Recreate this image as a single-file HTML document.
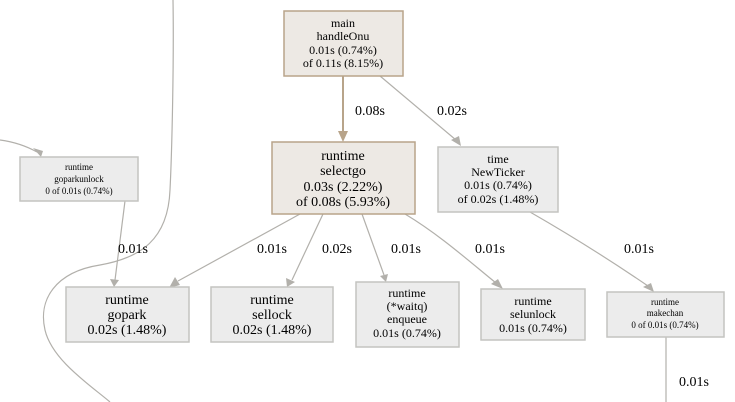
<!DOCTYPE html>
<html><head><meta charset="utf-8"><style>
html,body{margin:0;padding:0;background:#fff;width:735px;height:402px;overflow:hidden}
</style></head><body>
<svg width="735" height="402" viewBox="0 0 735 402" xmlns="http://www.w3.org/2000/svg" font-family="'Liberation Serif', 'DejaVu Serif', 'Times New Roman', serif" text-anchor="middle">
<g fill="none" stroke="#b2b0ab" stroke-width="1.2">
<path d="M173,0 C174,60 172,150 170,190 C168,240 140,258 100,265 C55,272 38,300 45,330 C52,360 90,385 110,402"/>
<path d="M0,140 C15,142 28,147 37,152"/>
<path d="M125,201 L115,280"/>
<path d="M300,214 L178,281"/>
<path d="M323,214 L292,280"/>
<path d="M362,214 L384,275"/>
<path d="M405,214 C440,235 470,262 496,283"/>
<path d="M380,76 L456,140"/>
<path d="M530,212 C570,235 610,260 648,286"/>
<path d="M666,337 L666,402"/>
</g>
<path d="M343,76 L343,132" stroke="#b8a48a" stroke-width="2" fill="none"/>
<polygon points="338,131 348,131 343,142" fill="#b8a48a"/>
<g fill="#b2b0ab">
<polygon points="33,148 43,151 41,157"/>
<polygon points="110,279 119,280 114,287"/>
<polygon points="175,277 180,285 169,288"/>
<polygon points="286,278 295,282 287,287"/>
<polygon points="380,276 388,274 386,282"/>
<polygon points="491,284 498,279 503,289"/>
<polygon points="451,140 459,136 461,146"/>
<polygon points="643,287 651,283 654,292"/>
</g>
<g stroke-width="1.5">
<rect x="284" y="11" width="119" height="65" fill="#ede9e4" stroke="#b8a48a"/>
<rect x="272" y="142" width="143" height="72" fill="#ede9e4" stroke="#b8a48a"/>
<rect x="20" y="157" width="118" height="44" fill="#ececec" stroke="#c4c4c0"/>
<rect x="438" y="147" width="120" height="65" fill="#ececec" stroke="#c4c4c0"/>
<rect x="66" y="287" width="123" height="55" fill="#ececec" stroke="#c4c4c0"/>
<rect x="211" y="287" width="122" height="55" fill="#ececec" stroke="#c4c4c0"/>
<rect x="356" y="282" width="103" height="65" fill="#ececec" stroke="#c4c4c0"/>
<rect x="481" y="289" width="104" height="51" fill="#ececec" stroke="#c4c4c0"/>
<rect x="607" y="292" width="117" height="45" fill="#ececec" stroke="#c4c4c0"/>
</g>
<g font-size="12">
<text x="343" y="27">main</text><text x="343" y="40">handleOnu</text><text x="343" y="54">0.01s (0.74%)</text><text x="343" y="67">of 0.11s (8.15%)</text>
<text x="498" y="163">time</text><text x="498" y="176">NewTicker</text><text x="498" y="189">0.01s (0.74%)</text><text x="498" y="203">of 0.02s (1.48%)</text>
<text x="407" y="297">runtime</text><text x="407" y="310">(*waitq)</text><text x="407" y="323">enqueue</text><text x="407" y="337">0.01s (0.74%)</text>
<text x="533" y="305">runtime</text><text x="533" y="318">selunlock</text><text x="533" y="332">0.01s (0.74%)</text>
</g>
<g font-size="9">
<text x="79" y="170">runtime</text><text x="79" y="182">goparkunlock</text><text x="79" y="194">0 of 0.01s (0.74%)</text>
<text x="665" y="305">runtime</text><text x="665" y="316">makechan</text><text x="665" y="328">0 of 0.01s (0.74%)</text>
</g>
<g font-size="14">
<text x="343" y="160">runtime</text><text x="343" y="175">selectgo</text><text x="343" y="191">0.03s (2.22%)</text><text x="343" y="206">of 0.08s (5.93%)</text>
<text x="127" y="304">runtime</text><text x="127" y="319">gopark</text><text x="127" y="334">0.02s (1.48%)</text>
<text x="272" y="304">runtime</text><text x="272" y="319">sellock</text><text x="272" y="334">0.02s (1.48%)</text>
<text x="370" y="115">0.08s</text>
<text x="452" y="115">0.02s</text>
<text x="133" y="253">0.01s</text>
<text x="272" y="253">0.01s</text>
<text x="337" y="253">0.02s</text>
<text x="406" y="253">0.01s</text>
<text x="490" y="253">0.01s</text>
<text x="639" y="253">0.01s</text>
<text x="694" y="386">0.01s</text>
</g>
</svg>
</body></html>
